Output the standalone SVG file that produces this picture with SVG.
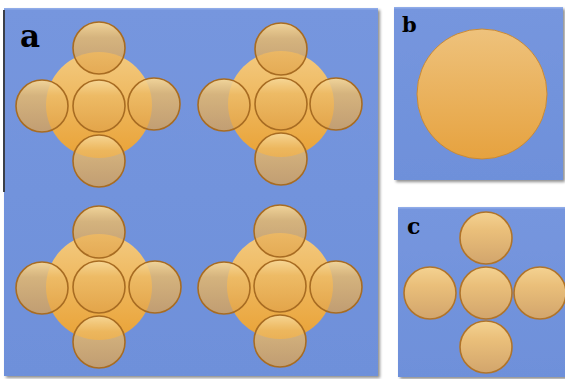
<svg xmlns="http://www.w3.org/2000/svg" width="565" height="379" viewBox="0 0 565 379">
<defs>
<linearGradient id="panel" x1="0" y1="0" x2="0" y2="1">
<stop offset="0" stop-color="#7696DE"/>
<stop offset="1" stop-color="#6E90DA"/>
</linearGradient>
<linearGradient id="big" x1="0" y1="0" x2="0" y2="1">
<stop offset="0" stop-color="#F3CA80"/>
<stop offset="1" stop-color="#E9A236"/>
</linearGradient>
<linearGradient id="sm" x1="0" y1="0" x2="0" y2="1">
<stop offset="0" stop-color="#F7D898" stop-opacity="0.95"/>
<stop offset="0.3" stop-color="#EDBB66" stop-opacity="0.8"/>
<stop offset="1" stop-color="#E0A24A" stop-opacity="0.72"/>
</linearGradient>
<linearGradient id="cg" x1="0" y1="0" x2="0" y2="1">
<stop offset="0" stop-color="#F4D291"/>
<stop offset="0.35" stop-color="#EABF7A"/>
<stop offset="1" stop-color="#D2A56C"/>
</linearGradient>
<linearGradient id="bg" x1="0" y1="0" x2="0" y2="1">
<stop offset="0" stop-color="#EEC27C"/>
<stop offset="1" stop-color="#E6A23F"/>
</linearGradient>
<filter id="sh" x="-10%" y="-10%" width="130%" height="130%">
<feGaussianBlur in="SourceAlpha" stdDeviation="1.5"/>
<feOffset dx="1.5" dy="1.5"/>
<feComponentTransfer><feFuncA type="linear" slope="0.45"/></feComponentTransfer>
<feMerge><feMergeNode/><feMergeNode in="SourceGraphic"/></feMerge>
</filter>
<circle id="s" r="26" fill="url(#sm)" stroke="#A86C22" stroke-width="1.6"/>
<circle id="sc" r="26" fill="url(#cg)" stroke="#B0742A" stroke-width="1.6"/>
</defs>
<style>
.lbl{font-family:"DejaVu Serif","Liberation Serif",serif;font-weight:bold;fill:#000}
.pn{fill:url(#panel)}
</style>
<rect width="565" height="379" fill="#FFFFFF"/>

<g id="panel-a">
<rect class="pn" x="4" y="8" width="374" height="368" filter="url(#sh)"/>
<rect x="4" y="8" width="374" height="1.5" fill="#8FABE8"/>
<rect x="3" y="10" width="2" height="182" fill="#3A3F4A"/>
<text class="lbl" x="20" y="47" font-size="31">a</text>
</g>

<g id="group-a1">
<circle cx="99" cy="105" r="53" fill="url(#big)"/>
<use href="#s" x="99" y="106"/>
<use href="#s" x="99" y="48"/>
<use href="#s" x="42" y="106"/>
<use href="#s" x="154" y="104"/>
<use href="#s" x="99" y="161"/>
</g>
<g id="group-a2">
<circle cx="281" cy="104" r="53" fill="url(#big)"/>
<use href="#s" x="281" y="104"/>
<use href="#s" x="281" y="49"/>
<use href="#s" x="224" y="105"/>
<use href="#s" x="336" y="104"/>
<use href="#s" x="281" y="159"/>
</g>
<g id="group-a3">
<circle cx="99" cy="287" r="53" fill="url(#big)"/>
<use href="#s" x="99" y="287"/>
<use href="#s" x="99" y="232"/>
<use href="#s" x="42" y="288"/>
<use href="#s" x="155" y="287"/>
<use href="#s" x="99" y="342"/>
</g>
<g id="group-a4">
<circle cx="280" cy="286" r="53" fill="url(#big)"/>
<use href="#s" x="280" y="286"/>
<use href="#s" x="280" y="231"/>
<use href="#s" x="224" y="288"/>
<use href="#s" x="336" y="287"/>
<use href="#s" x="280" y="341"/>
</g>

<g id="panel-b">
<rect class="pn" x="394" y="7" width="169" height="173" filter="url(#sh)"/>
<rect x="394" y="7" width="169" height="1.5" fill="#8FABE8"/>
<text class="lbl" x="402" y="32" font-size="21">b</text>
<circle cx="482" cy="94" r="65" fill="url(#bg)" stroke="#C98A36" stroke-width="1"/>
</g>

<g id="panel-c">
<rect class="pn" x="398" y="207" width="170" height="170" filter="url(#sh)"/>
<rect x="398" y="207" width="170" height="1.5" fill="#8FABE8"/>
<text class="lbl" x="407" y="234" font-size="22">c</text>
<use href="#sc" x="486" y="238"/>
<use href="#sc" x="430" y="293"/>
<use href="#sc" x="486" y="293"/>
<use href="#sc" x="540" y="293"/>
<use href="#sc" x="486" y="347"/>
</g>
</svg>
